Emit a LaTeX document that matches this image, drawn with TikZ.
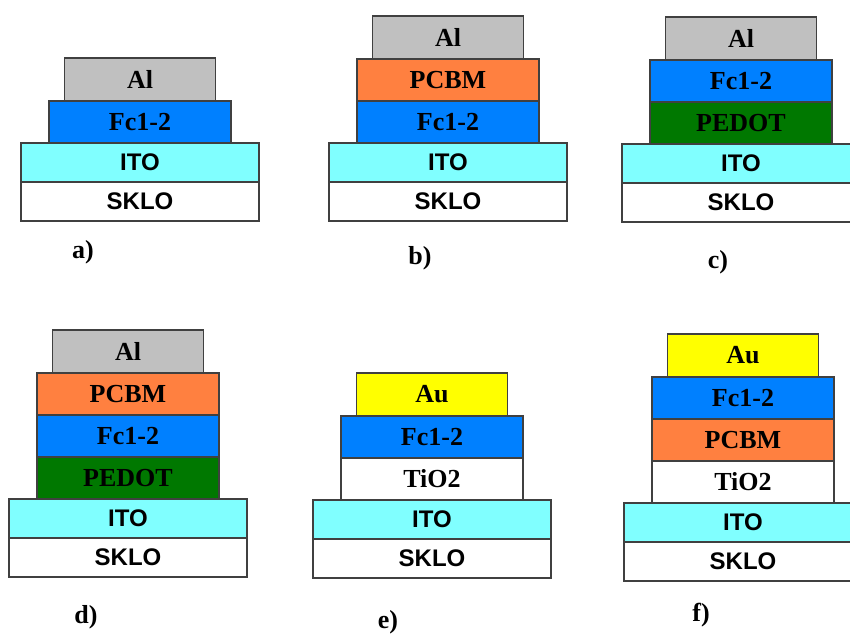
\documentclass[tikz,border=0pt]{standalone}
\usepackage{fontspec}
\setmainfont{Liberation Serif}
\newfontfamily\arialfont{Liberation Sans}
\usetikzlibrary{positioning}

\definecolor{edgegray}{HTML}{404040}
\definecolor{algray}{HTML}{C0C0C0}
\definecolor{auyellow}{HTML}{FFFF00}
\definecolor{fcblue}{HTML}{0080FF}
\definecolor{pcbmorange}{HTML}{FF8040}
\definecolor{pedotgreen}{HTML}{007800}
\definecolor{itocyan}{HTML}{80FFFF}

\tikzset{
  layer/.style={draw=edgegray, line width=1.3pt, inner sep=0pt, outer sep=0pt,
    minimum height=42pt, font=\bfseries\fontsize{26}{26}\selectfont},
  stackbase/.style={layer, minimum width=238pt, minimum height=39pt,
    font=\arialfont\bfseries\fontsize{24}{24}\selectfont},
  itolayer/.style={stackbase, fill=itocyan},
  sklolayer/.style={stackbase, fill=white},
  midlayer/.style={layer, minimum width=182pt},
  toplayer/.style={layer, minimum width=151pt, minimum height=43pt},
  allayer/.style={toplayer, fill=algray},
  aulayer/.style={toplayer, fill=auyellow},
  fclayer/.style={midlayer, fill=fcblue},
  pcbmlayer/.style={midlayer, fill=pcbmorange},
  pedotlayer/.style={midlayer, fill=pedotgreen},
  tiolayer/.style={midlayer, fill=white},
  tag/.style={font=\bfseries\fontsize{26}{26}\selectfont}
}

\begin{document}
\begin{tikzpicture}[x=1pt,y=1pt]
\fill[white] (0,0) rectangle (850,635);
\clip (0,0) rectangle (850,635);

% a) Al / Fc1-2 / ITO / glass
\node[sklolayer, anchor=south] (a-sklo) at (140,414) {SKLO};
\node[itolayer, above=0pt of a-sklo] (a-ito) {ITO};
\node[fclayer, above=0pt of a-ito] (a-fc) {Fc1-2};
\node[allayer, above=0pt of a-fc] (a-al) {Al};
\node[tag] (a-tag) at (83,383) {a)};

% b) Al / PCBM / Fc1-2 / ITO / glass
\node[sklolayer, anchor=south] (b-sklo) at (448,414) {SKLO};
\node[itolayer, above=0pt of b-sklo] (b-ito) {ITO};
\node[fclayer, above=0pt of b-ito] (b-fc) {Fc1-2};
\node[pcbmlayer, above=0pt of b-fc] (b-pcbm) {PCBM};
\node[allayer, above=0pt of b-pcbm] (b-al) {Al};
\node[tag] (b-tag) at (420,377) {b)};

% c) Al / Fc1-2 / PEDOT / ITO / glass
\node[sklolayer, anchor=south] (c-sklo) at (741,413) {SKLO};
\node[itolayer, above=0pt of c-sklo] (c-ito) {ITO};
\node[pedotlayer, above=0pt of c-ito] (c-pedot) {PEDOT};
\node[fclayer, above=0pt of c-pedot] (c-fc) {Fc1-2};
\node[allayer, above=0pt of c-fc] (c-al) {Al};
\node[tag] (c-tag) at (718,373) {c)};

% d) Al / PCBM / Fc1-2 / PEDOT / ITO / glass
\node[sklolayer, anchor=south] (d-sklo) at (128,58) {SKLO};
\node[itolayer, above=0pt of d-sklo] (d-ito) {ITO};
\node[pedotlayer, above=0pt of d-ito] (d-pedot) {PEDOT};
\node[fclayer, above=0pt of d-pedot] (d-fc) {Fc1-2};
\node[pcbmlayer, above=0pt of d-fc] (d-pcbm) {PCBM};
\node[allayer, above=0pt of d-pcbm] (d-al) {Al};
\node[tag] (d-tag) at (86,18) {d)};

% e) Au / Fc1-2 / TiO2 / ITO / glass
\node[sklolayer, anchor=south] (e-sklo) at (432,57) {SKLO};
\node[itolayer, above=0pt of e-sklo] (e-ito) {ITO};
\node[tiolayer, above=0pt of e-ito] (e-tio) {TiO2};
\node[fclayer, above=0pt of e-tio] (e-fc) {Fc1-2};
\node[aulayer, above=0pt of e-fc] (e-au) {Au};
\node[tag] (e-tag) at (388,13) {e)};

% f) Au / Fc1-2 / PCBM / TiO2 / ITO / glass
\node[sklolayer, anchor=south] (f-sklo) at (743,54) {SKLO};
\node[itolayer, above=0pt of f-sklo] (f-ito) {ITO};
\node[tiolayer, above=0pt of f-ito] (f-tio) {TiO2};
\node[pcbmlayer, above=0pt of f-tio] (f-pcbm) {PCBM};
\node[fclayer, above=0pt of f-pcbm] (f-fc) {Fc1-2};
\node[aulayer, above=0pt of f-fc] (f-au) {Au};
\node[tag] (f-tag) at (701,20) {f)};
\end{tikzpicture}
\end{document}
